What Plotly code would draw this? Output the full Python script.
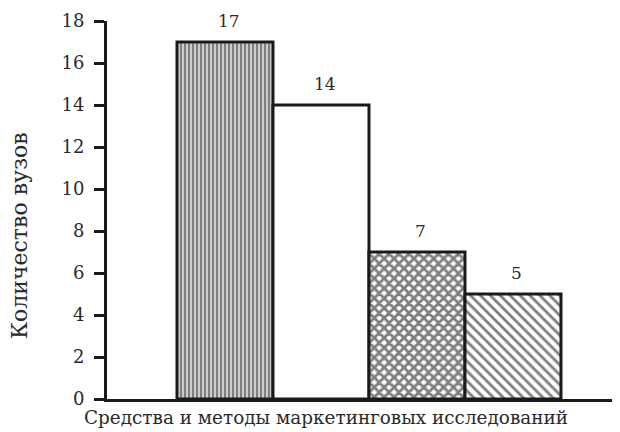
import plotly.graph_objects as go

category = ["Средства и методы маркетинговых исследований"]
series_names = ["Средство 1", "Средство 2", "Средство 3", "Средство 4"]
values = [17, 14, 7, 5]
y_ticks = [0, 2, 4, 6, 8, 10, 12, 14, 16, 18]
x_title = "Средства и методы маркетинговых исследований"
y_title = "Количество вузов"

patterns = [
    dict(shape="|", size=4, solidity=0.7, fgcolor="#000", bgcolor="white"),
    dict(shape="", bgcolor="white"),
    dict(shape="x", size=7, solidity=0.65, fgcolor="#000", bgcolor="white"),
    dict(shape="\\", size=7, solidity=0.4, fgcolor="#000", bgcolor="white"),
]

FONT = "DejaVu Serif"
TXT = "#2a2a2a"
group_width = 0.7485
bar_w = group_width / len(values)

fig = go.Figure()
annotations = []
for i, (name, v, pat) in enumerate(zip(series_names, values, patterns)):
    off = -group_width / 2 + i * bar_w
    fig.add_trace(go.Bar(
        x=category, y=[v], name=name, width=bar_w, offset=off,
        marker=dict(color="white", pattern=pat, line=dict(color="#1a1a1a", width=3)),
    ))
    annotations.append(dict(
        text=str(v), x=off + bar_w / 2, y=v, xref="x", yref="y",
        xanchor="center", yanchor="bottom", yshift=9, xshift=4, showarrow=False,
        font=dict(family=FONT, size=17, color=TXT)))

annotations += [
    dict(text=x_title, xref="paper", yref="paper", x=0.427, y=-0.050,
         xanchor="center", yanchor="middle", showarrow=False,
         font=dict(family=FONT, size=18.4, color=TXT)),
    dict(text=y_title, xref="paper", yref="paper", x=-0.1696, y=0.434,
         xanchor="center", yanchor="middle", showarrow=False, textangle=-90,
         font=dict(family=FONT, size=22, color=TXT)),
]

fig.update_layout(
    width=612, height=424,
    margin=dict(l=99, r=0, t=13, b=33),
    paper_bgcolor="white", plot_bgcolor="white",
    barmode="overlay",
    showlegend=False,
    font=dict(family=FONT, color=TXT),
    xaxis=dict(type="category", range=[-0.5107, 0.4893], showticklabels=False,
               ticks="", showline=True, linecolor="#1a1a1a", linewidth=3,
               showgrid=False, zeroline=False),
    yaxis=dict(range=[0, 18], tickvals=y_ticks, ticks="outside", ticklen=10,
               tickwidth=3, tickcolor="#1a1a1a", showline=True,
               linecolor="#1a1a1a", linewidth=3, showgrid=False, zeroline=False,
               ticklabelstandoff=6,
               tickfont=dict(family=FONT, size=18, color=TXT)),
    annotations=annotations,
)
fig.write_html("out.html")
